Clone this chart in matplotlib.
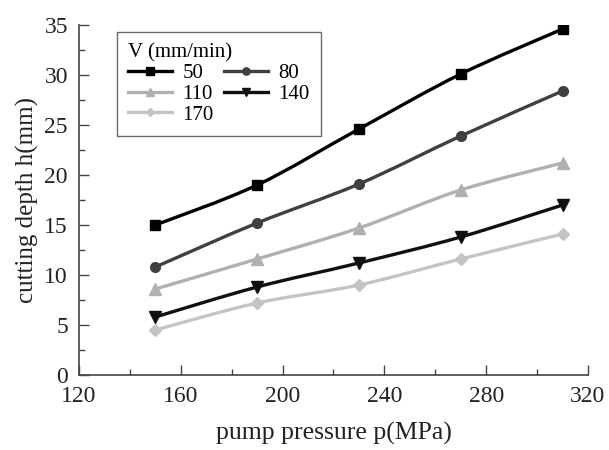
import matplotlib
matplotlib.use("Agg")
import matplotlib.pyplot as plt
from matplotlib.ticker import MultipleLocator
from matplotlib.path import Path
from matplotlib.patches import PathPatch
from matplotlib.lines import Line2D

plt.rcParams['font.family'] = ['Liberation Serif', 'DejaVu Serif']

pressure = [150, 190, 230, 270, 310]
v50 = [15.0, 19.0, 24.6, 30.1, 34.6]
v80 = [10.8, 15.2, 19.1, 23.9, 28.4]
v110 = [8.6, 11.6, 14.7, 18.5, 21.2]
v140 = [5.8, 8.8, 11.2, 13.8, 17.0]
v170 = [4.5, 7.2, 9.0, 11.6, 14.1]
labels = ['50', '80', '110', '140', '170']


def smooth_path(xs, ys):
    """Catmull-Rom style cubic Bezier path through the data points."""
    verts = [(xs[0], ys[0])]
    codes = [Path.MOVETO]
    n = len(xs)
    for i in range(n - 1):
        x0, y0 = (xs[i - 1], ys[i - 1]) if i > 0 else (xs[i], ys[i])
        x1, y1 = xs[i], ys[i]
        x2, y2 = xs[i + 1], ys[i + 1]
        x3, y3 = (xs[i + 2], ys[i + 2]) if i + 2 < n else (xs[i + 1], ys[i + 1])
        c1 = (x1 + (x2 - x0) / 6.0, y1 + (y2 - y0) / 6.0)
        c2 = (x2 - (x3 - x1) / 6.0, y2 - (y3 - y1) / 6.0)
        verts += [c1, c2, (x2, y2)]
        codes += [Path.CURVE4, Path.CURVE4, Path.CURVE4]
    return Path(verts, codes)


fig = plt.figure(figsize=(6.09, 4.5), dpi=100)
ax = fig.add_axes([0.1297, 0.1667, 0.8358, 0.7777])

styles = [
    ('#000000', 's', 7),
    ('#404040', 'o', 7),
    ('#b0b0b0', '^', 8),
    ('#101010', 'v', 8),
    ('#c4c4c4', 'D', 6),
]
handles = {}
for ys, lab, (c, m, ms) in zip([v50, v80, v110, v140, v170], labels, styles):
    ax.add_patch(PathPatch(smooth_path(pressure, ys), facecolor='none', edgecolor=c, lw=2.4,
                           capstyle='round', joinstyle='round'))
    ax.plot(pressure, ys, color=c, marker=m, markersize=ms, linestyle='none')
    handles[lab] = Line2D([], [], color=c, marker=m, markersize=ms * 0.75, lw=2.4)

ax.set_xlim(120, 320)
ax.set_ylim(0, 35)
ax.xaxis.set_major_locator(MultipleLocator(40))
ax.xaxis.set_minor_locator(MultipleLocator(20))
ax.yaxis.set_major_locator(MultipleLocator(5))
ax.yaxis.set_minor_locator(MultipleLocator(2.5))
ax.tick_params(which='both', direction='in', labelsize=17, colors='#444444', labelcolor='#222222')
ax.tick_params(which='major', length=7, width=1)
ax.tick_params(which='minor', length=4, width=1)
ax.tick_params(axis='x', pad=8)
ax.tick_params(axis='y', pad=8)
for s in ['top', 'right']:
    ax.spines[s].set_visible(False)
for s in ['left', 'bottom']:
    ax.spines[s].set_color('#444444')
    ax.spines[s].set_linewidth(1.2)

ax.set_xlabel('pump pressure p(MPa)', fontsize=18.5, color='#222222', labelpad=11)
ax.set_ylabel('cutting depth h(mm)', fontsize=18, color='#222222', labelpad=4)

order = ['50', '110', '170', '80', '140']
leg = ax.legend([handles[k] for k in order], order, title='V (mm/min)', ncol=2,
                loc='upper left', bbox_to_anchor=(0.0747, 0.98),
                fontsize=15, title_fontsize=15, frameon=True, fancybox=False,
                edgecolor='#444444', handlelength=2.1, columnspacing=0.5,
                handletextpad=0.5, borderpad=0.55, labelspacing=0.05, borderaxespad=0)
leg._legend_box.align = 'left'
leg.get_frame().set_linewidth(1.0)

fig.savefig('out.png', dpi=100, facecolor='white')
